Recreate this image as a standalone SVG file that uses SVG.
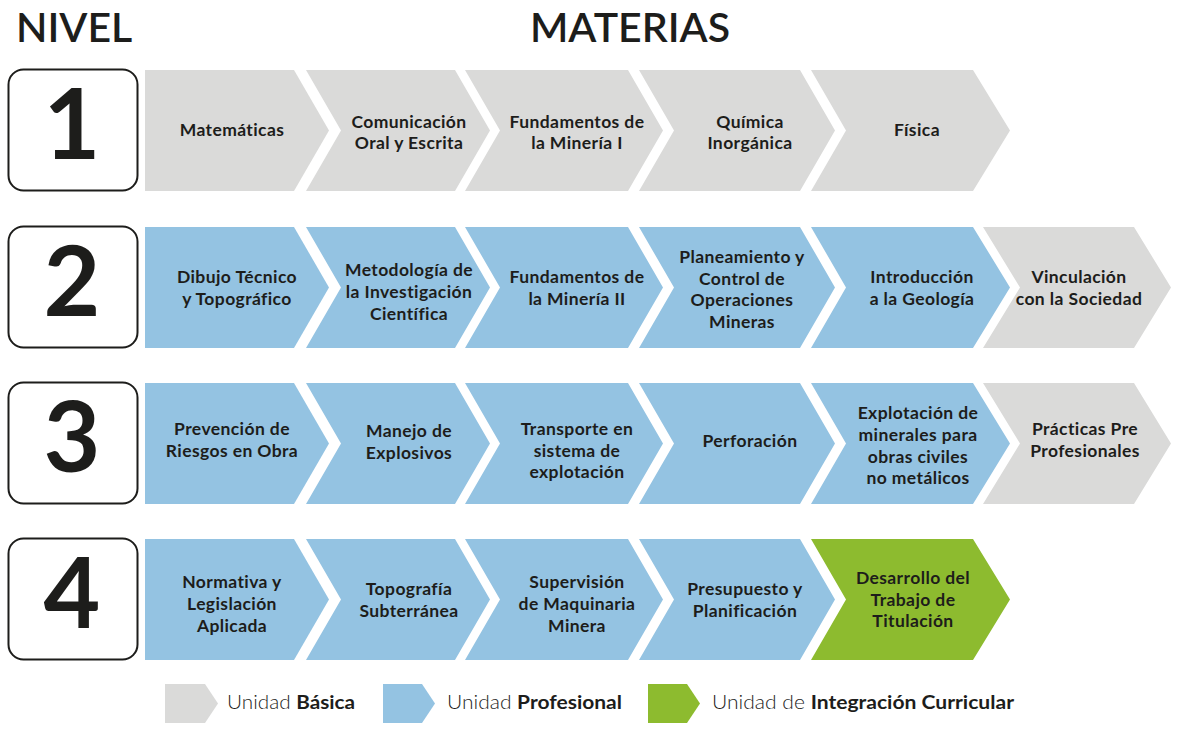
<svg xmlns="http://www.w3.org/2000/svg" width="1177" height="730" viewBox="0 0 1177 730">
  <style>
    .basic { fill: #dadad9; }
    .prof { fill: #94c3e2; }
    .integ { fill: #8dbb2f; }
    .box { fill: #ffffff; stroke: #1d1d1b; stroke-width: 2; }
    .num { font-family: Lato, "Open Sans", sans-serif; font-weight: 700; font-size: 98px; fill: #1d1d1b; text-anchor: middle; }
    .head { font-family: Lato, "Open Sans", sans-serif; font-weight: 600; font-size: 41px; fill: #1d1d1b; }
    .lbl { font-family: Lato, "Open Sans", sans-serif; font-weight: 700; font-size: 17.5px; letter-spacing: 0.4px; fill: #1d1d1b; text-anchor: middle; }
    .leg { font-family: Lato, "Open Sans", sans-serif; font-weight: 300; font-size: 19px; fill: #1d1d1b; }
    .leg tspan.b { font-weight: 700; }
  </style>

  <!-- headers -->
  <text class="head" x="16" y="42">NIVEL</text>
  <text class="head" x="630" y="42" text-anchor="middle">MATERIAS</text>

  <!-- level boxes -->
  <g id="nivel-1"><rect class="box" x="8.5" y="69.5" width="129" height="121" rx="15"/><text class="num" x="72" y="159">1</text></g>
  <g id="nivel-2"><rect class="box" x="8.5" y="226.5" width="129" height="121" rx="15"/><text class="num" x="72" y="316">2</text></g>
  <g id="nivel-3"><rect class="box" x="8.5" y="382.5" width="129" height="121" rx="15"/><text class="num" x="72" y="472">3</text></g>
  <g id="nivel-4"><rect class="box" x="8.5" y="538.5" width="129" height="121" rx="15"/><text class="num" x="72" y="628">4</text></g>

  <!-- row 1 -->
  <g id="matematicas"><polygon class="basic" points="145,70 294,70 329,130.5 294,191 145,191"/>
    <text class="lbl" x="232" y="136">Matemáticas</text></g>
  <g id="comunicacion"><polygon class="basic" points="306,70 455,70 490,130.5 455,191 306,191 341,130.5"/>
    <text class="lbl" x="409" y="128">Comunicación</text><text class="lbl" x="409" y="149">Oral y Escrita</text></g>
  <g id="fundamentos-1"><polygon class="basic" points="465,70 628,70 663,130.5 628,191 465,191 500,130.5"/>
    <text class="lbl" x="577" y="128">Fundamentos de</text><text class="lbl" x="577" y="149">la Minería I</text></g>
  <g id="quimica"><polygon class="basic" points="639,70 800,70 835,130.5 800,191 639,191 674,130.5"/>
    <text class="lbl" x="750" y="128">Química</text><text class="lbl" x="750" y="149">Inorgánica</text></g>
  <g id="fisica"><polygon class="basic" points="811,70 973,70 1010,130.5 973,191 811,191 846,130.5"/>
    <text class="lbl" x="917" y="136">Física</text></g>

  <!-- row 2 -->
  <g id="dibujo"><polygon class="prof" points="145,227 294,227 329,287.5 294,348 145,348"/>
    <text class="lbl" x="237" y="283">Dibujo Técnico</text><text class="lbl" x="237" y="305">y Topográfico</text></g>
  <g id="metodologia"><polygon class="prof" points="306,227 455,227 490,287.5 455,348 306,348 341,287.5"/>
    <text class="lbl" x="409" y="276">Metodología de</text><text class="lbl" x="409" y="298">la Investigación</text><text class="lbl" x="409" y="320">Científica</text></g>
  <g id="fundamentos-2"><polygon class="prof" points="465,227 628,227 663,287.5 628,348 465,348 500,287.5"/>
    <text class="lbl" x="577" y="283">Fundamentos de</text><text class="lbl" x="577" y="305">la Minería II</text></g>
  <g id="planeamiento"><polygon class="prof" points="639,227 800,227 835,287.5 800,348 639,348 674,287.5"/>
    <text class="lbl" x="742" y="263">Planeamiento y</text><text class="lbl" x="742" y="285">Control de</text><text class="lbl" x="742" y="306">Operaciones</text><text class="lbl" x="742" y="328">Mineras</text></g>
  <g id="geologia"><polygon class="prof" points="811,227 973,227 1010,287.5 973,348 811,348 846,287.5"/>
    <text class="lbl" x="922" y="283">Introducción</text><text class="lbl" x="922" y="305">a la Geología</text></g>
  <g id="vinculacion"><polygon class="basic" points="983,227 1134,227 1171,287.5 1134,348 983,348 1020,287.5"/>
    <text class="lbl" x="1079" y="283">Vinculación</text><text class="lbl" x="1079" y="305">con la Sociedad</text></g>

  <!-- row 3 -->
  <g id="prevencion"><polygon class="prof" points="145,383 294,383 329,443.5 294,504 145,504"/>
    <text class="lbl" x="232" y="435">Prevención de</text><text class="lbl" x="232" y="457">Riesgos en Obra</text></g>
  <g id="explosivos"><polygon class="prof" points="306,383 455,383 490,443.5 455,504 306,504 341,443.5"/>
    <text class="lbl" x="409" y="437">Manejo de</text><text class="lbl" x="409" y="459">Explosivos</text></g>
  <g id="transporte"><polygon class="prof" points="465,383 628,383 663,443.5 628,504 465,504 500,443.5"/>
    <text class="lbl" x="577" y="435">Transporte en</text><text class="lbl" x="577" y="457">sistema de</text><text class="lbl" x="577" y="478">explotación</text></g>
  <g id="perforacion"><polygon class="prof" points="639,383 800,383 835,443.5 800,504 639,504 674,443.5"/>
    <text class="lbl" x="750" y="447">Perforación</text></g>
  <g id="explotacion"><polygon class="prof" points="811,383 973,383 1010,443.5 973,504 811,504 846,443.5"/>
    <text class="lbl" x="918" y="419">Explotación de</text><text class="lbl" x="918" y="441">minerales para</text><text class="lbl" x="918" y="463">obras civiles</text><text class="lbl" x="918" y="484">no metálicos</text></g>
  <g id="practicas"><polygon class="basic" points="983,383 1134,383 1171,443.5 1134,504 983,504 1020,443.5"/>
    <text class="lbl" x="1085" y="435">Prácticas Pre</text><text class="lbl" x="1085" y="457">Profesionales</text></g>

  <!-- row 4 -->
  <g id="normativa"><polygon class="prof" points="145,539 294,539 329,599.5 294,660 145,660"/>
    <text class="lbl" x="232" y="588">Normativa y</text><text class="lbl" x="232" y="610">Legislación</text><text class="lbl" x="232" y="632">Aplicada</text></g>
  <g id="topografia"><polygon class="prof" points="306,539 455,539 490,599.5 455,660 306,660 341,599.5"/>
    <text class="lbl" x="409" y="595">Topografía</text><text class="lbl" x="409" y="617">Subterránea</text></g>
  <g id="supervision"><polygon class="prof" points="465,539 628,539 663,599.5 628,660 465,660 500,599.5"/>
    <text class="lbl" x="577" y="588">Supervisión</text><text class="lbl" x="577" y="610">de Maquinaria</text><text class="lbl" x="577" y="632">Minera</text></g>
  <g id="presupuesto"><polygon class="prof" points="639,539 800,539 835,599.5 800,660 639,660 674,599.5"/>
    <text class="lbl" x="745" y="595">Presupuesto y</text><text class="lbl" x="745" y="617">Planificación</text></g>
  <g id="titulacion"><polygon class="integ" points="811,539 973,539 1010,599.5 973,660 811,660 846,599.5"/>
    <text class="lbl" x="913" y="584">Desarrollo del</text><text class="lbl" x="913" y="606">Trabajo de</text><text class="lbl" x="913" y="627">Titulación</text></g>

  <!-- legend -->
  <g id="legend-basica"><polygon class="basic" points="165,684 205,684 218,703.5 205,723 165,723"/>
    <text class="leg" x="227" y="709" textLength="128" lengthAdjust="spacingAndGlyphs">Unidad <tspan class="b">Básica</tspan></text></g>
  <g id="legend-profesional"><polygon class="prof" points="383,684 422,684 435,703.5 422,723 383,723"/>
    <text class="leg" x="447" y="709" textLength="175" lengthAdjust="spacingAndGlyphs">Unidad <tspan class="b">Profesional</tspan></text></g>
  <g id="legend-integracion"><polygon class="integ" points="648,684 687,684 700,703.5 687,723 648,723"/>
    <text class="leg" x="712" y="709" textLength="302" lengthAdjust="spacingAndGlyphs">Unidad de <tspan class="b">Integración Curricular</tspan></text></g>
</svg>
